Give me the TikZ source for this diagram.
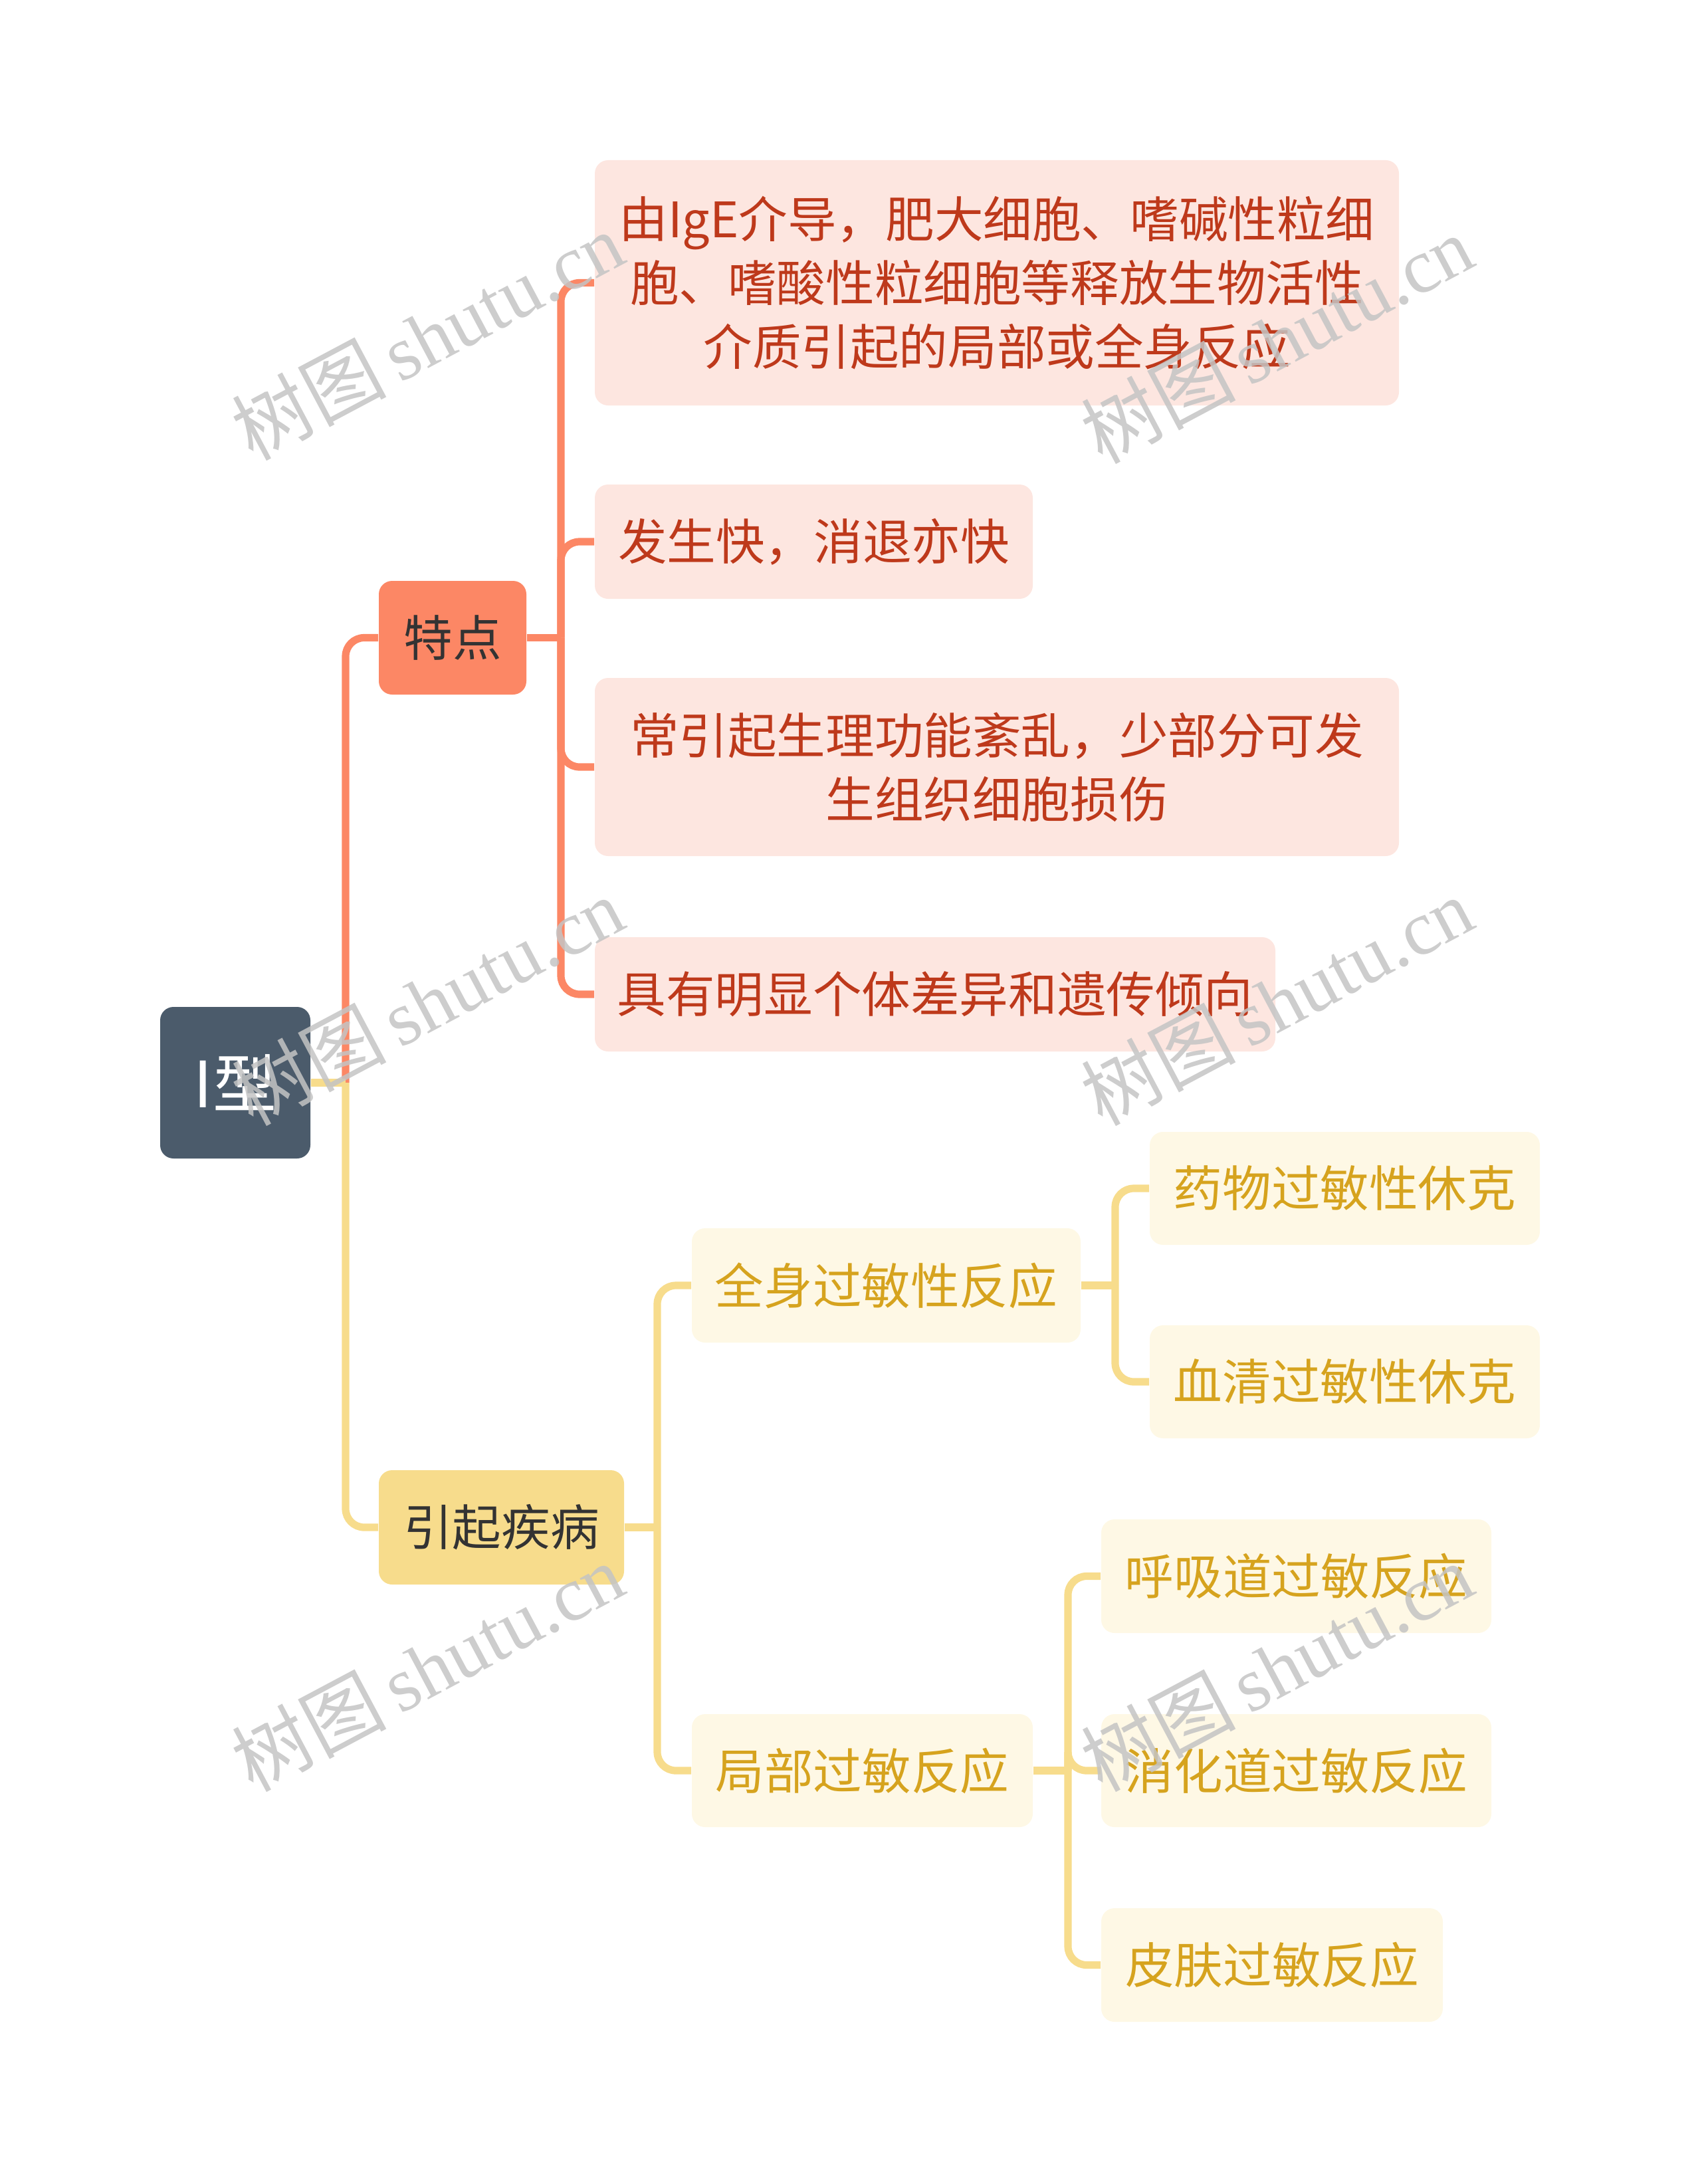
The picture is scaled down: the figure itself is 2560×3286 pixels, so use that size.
\documentclass[tikz,border=0pt]{standalone}
\usepackage{fontspec}
\setmainfont{Noto Sans CJK SC}
\newfontfamily\wmlatin{Liberation Serif}
\newfontfamily\wmcjk{Noto Sans CJK SC}
\definecolor{rootfill}{HTML}{4B5B6B}
\definecolor{redmain}{HTML}{FC8765}
\definecolor{redleaf}{HTML}{FDE6E0}
\definecolor{redtext}{HTML}{BE391B}
\definecolor{yelmain}{HTML}{F7DC8C}
\definecolor{yelleaf}{HTML}{FEF8E5}
\definecolor{yeltext}{HTML}{D6A31E}
\definecolor{darktext}{HTML}{333333}
\definecolor{wmgray}{HTML}{C4C4C4}
\begin{document}
\begin{tikzpicture}[x=0.25pt,y=-0.25pt,
  box/.style={rounded corners=5pt, inner sep=0pt, align=center, font=\fontsize{18.4}{24}\selectfont},
  rootbox/.style={box, fill=rootfill, text=white, font=\fontsize{24}{28}\selectfont},
  redmainbox/.style={box, fill=redmain, text=darktext},
  yelmainbox/.style={box, fill=yelmain, text=darktext},
  redleafbox/.style={box, fill=redleaf, text=redtext},
  yelleafbox/.style={box, fill=yelleaf, text=yeltext},
  redline/.style={draw=redmain, line width=2.8pt},
  yelline/.style={draw=yelmain, line width=2.8pt},
  wm/.style={text=wmgray, opacity=0.85, font=\fontsize{29}{32}\selectfont, rotate=28}
]
\useasboundingbox (0,0) rectangle (2560,3286);

% nodes
\node[rootbox, minimum width=56.5pt, minimum height=57pt] (root) at (354,1629) {I型};
\node[redmainbox, minimum width=55.5pt, minimum height=42.75pt] (tedian) at (681,959.5) {特点};
\node[yelmainbox, minimum width=92.25pt, minimum height=43pt] (yinqi) at (754.5,2298) {引起疾病};

\node[redleafbox, minimum width=302.5pt, minimum height=92.25pt] (l1) at (1500,425.5)
  {由IgE介导，肥大细胞、嗜碱性粒细\\胞、嗜酸性粒细胞等释放生物活性\\介质引起的局部或全身反应};
\node[redleafbox, minimum width=164.75pt, minimum height=43pt] (l2) at (1224.5,815) {发生快，消退亦快};
\node[redleafbox, minimum width=302.5pt, minimum height=67pt] (l3) at (1500,1154)
  {常引起生理功能紊乱，少部分可发\\生组织细胞损伤};
\node[redleafbox, minimum width=256pt, minimum height=43pt] (l4) at (1407,1496) {具有明显个体差异和遗传倾向};

\node[yelleafbox, minimum width=146.25pt, minimum height=43pt] (qs) at (1333.5,1934) {全身过敏性反应};
\node[yelleafbox, minimum width=146.75pt, minimum height=42.5pt] (yw) at (2023.5,1788) {药物过敏性休克};
\node[yelleafbox, minimum width=146.75pt, minimum height=42.5pt] (xq) at (2023.5,2079) {血清过敏性休克};
\node[yelleafbox, minimum width=128.25pt, minimum height=42.5pt] (jb) at (1297.5,2664) {局部过敏反应};
\node[yelleafbox, minimum width=146.75pt, minimum height=42.75pt] (hx) at (1950.5,2371.5) {呼吸道过敏反应};
\node[yelleafbox, minimum width=146.75pt, minimum height=42.5pt] (xh) at (1950.5,2664) {消化道过敏反应};
\node[yelleafbox, minimum width=128.5pt, minimum height=42.75pt] (pf) at (1914,2956.5) {皮肤过敏反应};

% junction coordinates
\coordinate (s0) at (520,1629);
\coordinate (s1) at (844,959.5);
\coordinate (s2) at (989,2298);
\coordinate (s3) at (1678,1934);
\coordinate (s4) at (1607,2664);

% connectors
\draw[redline, rounded corners=7pt] (s0) |- (tedian.west);
\draw[yelline] (root.east) -- (s0);
\draw[yelline, rounded corners=7pt] (s0) |- (yinqi.west);

\draw[redline] (tedian.east) -- (s1);
\foreach \n in {l1,l2,l3,l4} \draw[redline, rounded corners=7pt] (s1) |- (\n.west);

\draw[yelline] (yinqi.east) -- (s2);
\foreach \n in {qs,jb} \draw[yelline, rounded corners=7pt] (s2) |- (\n.west);

\draw[yelline] (qs.east) -- (s3);
\foreach \n in {yw,xq} \draw[yelline, rounded corners=7pt] (s3) |- (\n.west);

\draw[yelline] (jb.east) -- (s4);
\foreach \n in {hx,xh,pf} \draw[yelline, rounded corners=7pt] (s4) |- (\n.west);

% watermarks
\foreach \wx/\wy in {643/505, 1921/510, 643/1506, 1921/1506, 643/2508, 1921/2508}
  \node[wm] at (\wx,\wy) {{\wmcjk 树图}\,{\wmlatin shutu.cn}};
\end{tikzpicture}
\end{document}
